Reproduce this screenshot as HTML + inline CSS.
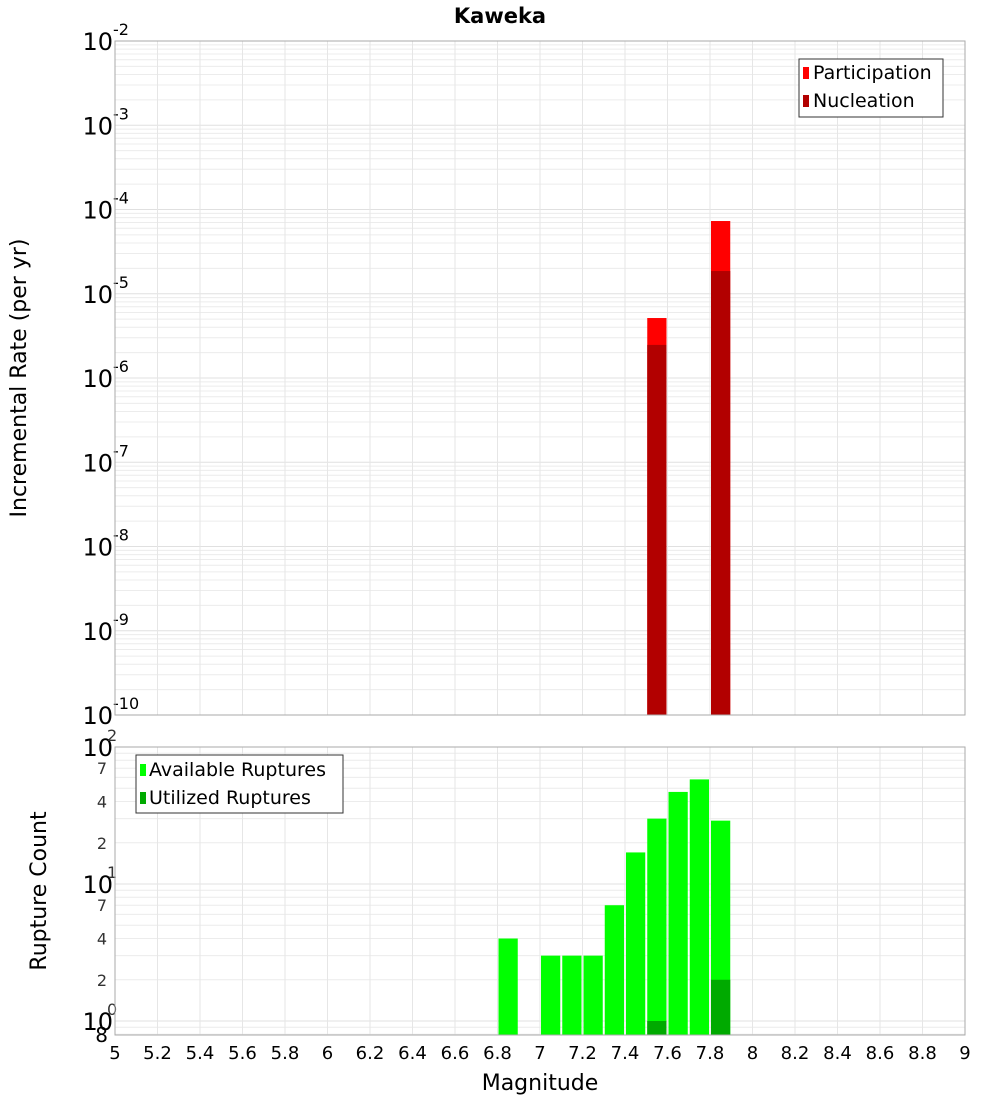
<!DOCTYPE html>
<html><head><meta charset="utf-8"><style>
body{margin:0;background:#fff;}
svg{display:block;font-family:"Liberation Sans","DejaVu Sans",sans-serif;}
</style></head><body>
<svg id="chart" width="1000" height="1100">
<text x="500" y="23" text-anchor="middle" font-size="21" font-weight="bold" font-family="DejaVu Sans, sans-serif">Kaweka</text>
<g id="gtop"></g>
<g id="gbot"></g>
<g id="xaxis"></g>
<text transform="translate(26,378) rotate(-90)" text-anchor="middle" font-size="22" font-family="DejaVu Sans, sans-serif">Incremental Rate (per yr)</text>
<text transform="translate(46,891) rotate(-90)" text-anchor="middle" font-size="22" font-family="DejaVu Sans, sans-serif">Rupture Count</text>
<text x="540" y="1090" text-anchor="middle" font-size="22" font-family="DejaVu Sans, sans-serif">Magnitude</text>
<g>
<rect x="799" y="59" width="144" height="58" fill="#fff" stroke="#333"/>
<rect x="803" y="67" width="6" height="12" fill="#ff0000"/>
<text x="813" y="79" font-size="19" font-family="DejaVu Sans, sans-serif">Participation</text>
<rect x="803" y="95" width="6" height="12" fill="#b20000"/>
<text x="813" y="107" font-size="19" font-family="DejaVu Sans, sans-serif">Nucleation</text>
</g>
<g>
<rect x="136" y="755" width="207" height="58" fill="#fff" stroke="#333"/>
<rect x="140" y="764" width="6" height="12" fill="#00ff00"/>
<text x="149" y="776" font-size="19" font-family="DejaVu Sans, sans-serif">Available Ruptures</text>
<rect x="140" y="792" width="6" height="12" fill="#00aa00"/>
<text x="149" y="804" font-size="19" font-family="DejaVu Sans, sans-serif">Utilized Ruptures</text>
</g>
</svg>
<script>
const mags = [7.55, 7.85];
const participation = [5.15e-6, 7.3e-5];
const nucleation = [2.47e-6, 1.86e-5];
const countMags = [6.85, 7.05, 7.15, 7.25, 7.35, 7.45, 7.55, 7.65, 7.75, 7.85];
const available = [4, 3, 3, 3, 7, 17, 30, 47, 58, 29];
const utilizedMags = [7.55, 7.85];
const utilized = [1, 2];
const xTicks = [5,5.2,5.4,5.6,5.8,6,6.2,6.4,6.6,6.8,7,7.2,7.4,7.6,7.8,8,8.2,8.4,8.6,8.8,9];
const topExps = [-2,-3,-4,-5,-6,-7,-8,-9,-10];

const NS='http://www.w3.org/2000/svg';
const X0=115,X1=965;
const x=m=>X0+(m-5)/4*(X1-X0);
const T0=41,T1=715;
const yT=v=>T0+(-2-Math.log10(v))*(T1-T0)/8;
const B0=747,BD=137;
const yB=v=>B0+(2-Math.log10(v))*BD;
const B1=1035;
function mk(parent,tag,attrs,txt){const e=document.createElementNS(NS,tag);for(const k in attrs)e.setAttribute(k,attrs[k]);if(txt!==undefined)e.textContent=txt;parent.appendChild(e);return e;}
const gTop=document.getElementById('gtop'),gBot=document.getElementById('gbot'),xa=document.getElementById('xaxis');
for(let d=-10;d<-2;d++){for(let k=2;k<=9;k++){const l=mk(gTop,'line',{x1:X0,x2:X1,y1:yT(k*Math.pow(10,d)),y2:yT(k*Math.pow(10,d)),stroke:'#ececec'});

}}
topExps.forEach(e=>{const l=mk(gTop,'line',{x1:X0,x2:X1,y1:yT(Math.pow(10,e)),y2:yT(Math.pow(10,e)),stroke:'#e0e0e0'});


const t=mk(gTop,'text',{x:113,y:yT(Math.pow(10,e))+9,'text-anchor':'end','font-size':24,'font-family':'DejaVu Sans, sans-serif'},'10');


const s=mk(gTop,'text',{x:113,y:yT(Math.pow(10,e))-6,'font-size':16,'font-family':'DejaVu Sans, sans-serif'},String(e));

});
[0.8,0.9,2,3,4,5,6,7,8,9,20,30,40,50,60,70,80,90].forEach(v=>{const l=mk(gBot,'line',{x1:X0,x2:X1,y1:yB(v),y2:yB(v),stroke:'#ececec'});

});
[1,10,100].forEach(v=>{const l=mk(gBot,'line',{x1:X0,x2:X1,y1:yB(v),y2:yB(v),stroke:'#e0e0e0'});

});
[[100,'2'],[10,'1'],[1,'0']].forEach(([v,e])=>{const t=mk(gBot,'text',{x:113,y:yB(v)+9,'text-anchor':'end','font-size':24,'font-family':'DejaVu Sans, sans-serif'},'10');


const s=mk(gBot,'text',{x:107,y:yB(v)-6,'font-size':16,'font-family':'DejaVu Sans, sans-serif',fill:'#333'},e);

});
[2,4,7,20,40,70].forEach(v=>{const t=mk(gBot,'text',{x:107,y:yB(v)+6,'text-anchor':'end','font-size':16,'font-family':'DejaVu Sans, sans-serif',fill:'#333'},String(v<10?v:v/10));

});
{const t=mk(gBot,'text',{x:108,y:1042,'text-anchor':'end','font-size':20,'font-family':'DejaVu Sans, sans-serif'},'8');

}
xTicks.forEach(m=>{[[T0,T1,gTop],[B0,B1,gBot]].forEach(([a,b,g])=>{const l=mk(g,'line',{x1:x(m),x2:x(m),y1:a,y2:b,stroke:'#e6e6e6'});

});
const t=mk(xa,'text',{x:x(m),y:1059,'text-anchor':'middle','font-size':18,'font-family':'DejaVu Sans, sans-serif'},String(m));

});
const bw=0.1*(X1-X0)/4;
mags.forEach((m,i)=>{const r=mk(gTop,'rect',{x:x(m)-bw/2+1,width:bw-2,y:yT(participation[i]),height:T1-yT(participation[i]),fill:'#ff0000'});


const n=mk(gTop,'rect',{x:x(m)-bw/2+1,width:bw-2,y:yT(nucleation[i]),height:T1-yT(nucleation[i]),fill:'#b20000'});

});
countMags.forEach((m,i)=>{const r=mk(gBot,'rect',{x:x(m)-bw/2+1,width:bw-2,y:yB(available[i]),height:B1-yB(available[i]),fill:'#00ff00'});

});
utilizedMags.forEach((m,i)=>{const r=mk(gBot,'rect',{x:x(m)-bw/2+1,width:bw-2,y:yB(utilized[i]),height:B1-yB(utilized[i]),fill:'#00aa00'});

});
{const f=mk(gTop,'rect',{x:X0,y:T0,width:X1-X0,height:T1-T0,fill:'none',stroke:'#aaa'});


const g=mk(gBot,'rect',{x:X0,y:B0,width:X1-X0,height:B1-B0,fill:'none',stroke:'#aaa'});

}
</script>
</body></html>
